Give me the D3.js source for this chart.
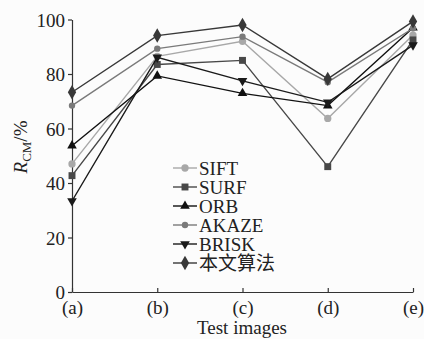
<!DOCTYPE html>
<html>
<head>
<meta charset="utf-8">
<script src="https://cdn.jsdelivr.net/npm/d3@7"></script>
<style>
  body { margin: 0; background: #fcfcfc; }
  text { font-family: "Liberation Serif", "Times New Roman", "Noto Sans CJK SC", serif; fill: #222; }
</style>
</head>
<body>
<svg id="chart" width="424" height="339"></svg>
<script>
// data
const categories = ["(a)", "(b)", "(c)", "(d)", "(e)"];
const seriesNames = ["SIFT", "SURF", "ORB", "AKAZE", "BRISK", "本文算法"];
const sift  = [47, 86.5, 92, 63.7, 94.3];
const surf  = [42.7, 83.5, 85, 46, 92.5];
const orb   = [53.7, 79.3, 72.9, 68.4, 97];
const akaze = [68.4, 89.3, 93.7, 77, 96.8];
const brisk = [33.4, 86.1, 77.5, 69.6, 90.6];
const ours  = [73.3, 94.1, 98, 78.2, 99.3];
const yTicks = [0, 20, 40, 60, 80, 100];

const series = [
    { name: seriesNames[0], values: sift,  color: "#a8a8a8", symbol: d3.symbolCircle,   size: 42 },
    { name: seriesNames[1], values: surf,  color: "#484848", symbol: d3.symbolSquare,   size: 48 },
    { name: seriesNames[2], values: orb,   color: "#111111", symbol: d3.symbolTriangle, size: 40, rot: 0 },
    { name: seriesNames[3], values: akaze, color: "#7a7a7a", symbol: d3.symbolCircle,   size: 32 },
    { name: seriesNames[4], values: brisk, color: "#1a1a1a", symbol: d3.symbolTriangle, size: 40, rot: 180 },
    { name: seriesNames[5], values: ours,  color: "#383838", symbol: d3.symbolDiamond,  size: 60 }
];

const svg = d3.select("#chart");
const margin = { left: 72, right: 11, top: 19.5, bottom: 47 };
const W = 424, H = 339;
const serif = '"Liberation Serif", "Times New Roman", "Noto Sans CJK SC", serif';

const x = d3.scalePoint().domain(categories).range([margin.left, W - margin.right]);
const y = d3.scaleLinear().domain([0, 100]).range([H - margin.bottom, margin.top]);

// axes
const yAxis = svg.append("g")
    .attr("transform", `translate(${margin.left},0)`)
    .call(d3.axisLeft(y).tickValues(yTicks).tickSize(4).tickPadding(3).tickSizeOuter(0));
yAxis.selectAll("text").style("font-size", "19px").attr("dy", "0.35em");

const xAxis = svg.append("g")
    .attr("transform", `translate(0,${H - margin.bottom})`)
    .call(d3.axisBottom(x).tickSize(-4).tickPadding(8).tickSizeOuter(0));
xAxis.selectAll("text").style("font-size", "19px").attr("dy", "0.75em");

svg.selectAll(".domain, .tick line").attr("stroke", "#333").attr("stroke-width", 1.2);
svg.selectAll("g.tick text").attr("font-family", serif).attr("fill", "#222");

// axis titles
svg.append("text")
    .attr("x", W / 2 + 30).attr("y", 334)
    .attr("text-anchor", "middle")
    .style("font-size", "19px")
    .text("Test images");

const yl = svg.append("text")
    .attr("transform", `translate(27,147) rotate(-90)`)
    .attr("text-anchor", "middle")
    .style("font-size", "19px");
yl.append("tspan").style("font-style", "italic").text("R");
yl.append("tspan").attr("dy", 4).style("font-size", "13px").text("CM");
yl.append("tspan").attr("dy", -4).text("/%");

// lines
const line = d3.line()
    .x((d, i) => x(categories[i]))
    .y(d => y(d));

series.forEach(s => {
    const g = svg.append("g");
    g.append("path")
        .attr("d", line(s.values))
        .attr("fill", "none")
        .attr("stroke", s.color)
        .attr("stroke-width", 1.4);
    g.selectAll("path.mark")
        .data(s.values)
        .enter().append("path")
        .attr("class", "mark")
        .attr("d", d3.symbol().type(s.symbol).size(s.size))
        .attr("fill", s.color)
        .attr("transform", (d, i) => `translate(${x(categories[i])},${y(d)}) rotate(${s.rot || 0})`);
});

// legend
const legend = svg.append("g").attr("transform", "translate(173,168)");
series.forEach((s, i) => {
    const row = legend.append("g").attr("transform", `translate(0,${i * 19})`);
    row.append("line")
        .attr("x1", 0).attr("x2", 24)
        .attr("stroke", s.color).attr("stroke-width", 1.4);
    row.append("path")
        .attr("d", d3.symbol().type(s.symbol).size(s.size))
        .attr("fill", s.color)
        .attr("transform", `translate(12,0) rotate(${s.rot || 0})`);
    row.append("text")
        .attr("x", 26).attr("dy", "0.35em")
        .attr("font-family", serif)
        .style("font-size", "19px")
        .text(s.name);
});
</script>
</body>
</html>
